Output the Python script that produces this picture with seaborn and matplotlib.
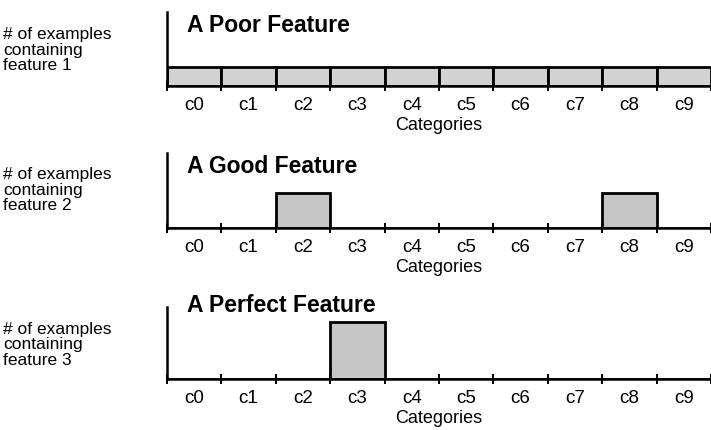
import matplotlib
matplotlib.use('Agg')
import matplotlib.pyplot as plt
import seaborn as sns
import numpy as np
import pandas as pd

# ── Data ───────────────────────────────────────────────────────────────────
CATEGORIES = ['c0', 'c1', 'c2', 'c3', 'c4', 'c5', 'c6', 'c7', 'c8', 'c9']
FEATURE_1 = [1, 1, 1, 1, 1, 1, 1, 1, 1, 1]          # poor: spread everywhere
FEATURE_2 = [0, 0, 1.85, 0, 0, 0, 0, 0, 1.85, 0]    # good: two categories
FEATURE_3 = [0, 0, 0, 3, 0, 0, 0, 0, 0, 0]          # perfect: one category
TITLES = ['A Poor Feature', 'A Good Feature', 'A Perfect Feature']
YLABELS = ['# of examples\ncontaining\nfeature 1',
           '# of examples\ncontaining\nfeature 2',
           '# of examples\ncontaining\nfeature 3']
BAR_COLORS = ['#d2d2d2', '#c6c6c6', '#c6c6c6']

sns.set_style('white')
plt.rcParams['font.family'] = ['Liberation Sans', 'DejaVu Sans']
plt.rcParams['text.color'] = 'black'
plt.rcParams['axes.labelcolor'] = 'black'
plt.rcParams['xtick.color'] = 'black'

W, H = 711, 430
fig = plt.figure(figsize=(W / 100, H / 100), dpi=100)

# panel geometry in pixels: (axis top, baseline, title baseline, ylabel middle line)
PANELS = [(12, 86, 32, 50), (153, 228, 173, 190), (307, 379, 312, 345)]
LEFT, RIGHT = 167, 711
UNIT_PX = 19  # pixels per unit of bar height

for values, title, ylab, color, (top, base, tbase, ymid) in zip(
        [FEATURE_1, FEATURE_2, FEATURE_3], TITLES, YLABELS, BAR_COLORS, PANELS):
    ax = fig.add_axes([LEFT / W, 1 - base / H, (RIGHT - LEFT) / W, (base - top) / H])
    df = pd.DataFrame({'cat': CATEGORIES, 'n': values})
    sns.barplot(data=df, x='cat', y='n', ax=ax, color=color, width=1.0,
                edgecolor='black', linewidth=2.0, saturation=1)
    ax.set_xlim(-0.5, 9.5)
    ax.set_ylim(0, (base - top) / UNIT_PX)
    sns.despine(ax=ax)
    for s in ('left', 'bottom'):
        ax.spines[s].set_linewidth(1.8)
        ax.spines[s].set_color('black')
    ax.set_yticks([])
    ax.set_ylabel('')
    ax.set_xticks(range(10))
    ax.set_xticklabels(CATEGORIES, fontsize=13.5)
    ax.set_xticks(np.arange(-0.5, 10, 1), minor=True)
    ax.tick_params(axis='x', which='major', length=0, pad=8)
    ax.tick_params(axis='x', which='minor', direction='inout', length=7,
                   width=1.4, color='black', bottom=True)
    ax.set_xlabel('Categories', fontsize=13, labelpad=2)
    ax.patch.set_alpha(0)

    fig.text(187 / W, 1 - tbase / H, title, fontsize=16.5, fontweight='bold',
             va='baseline', ha='left')
    fig.text(3 / W, 1 - ymid / H, ylab, fontsize=12.5, va='center', ha='left',
             linespacing=1.08)

fig.savefig('out.png', dpi=100)
plt.close(fig)
